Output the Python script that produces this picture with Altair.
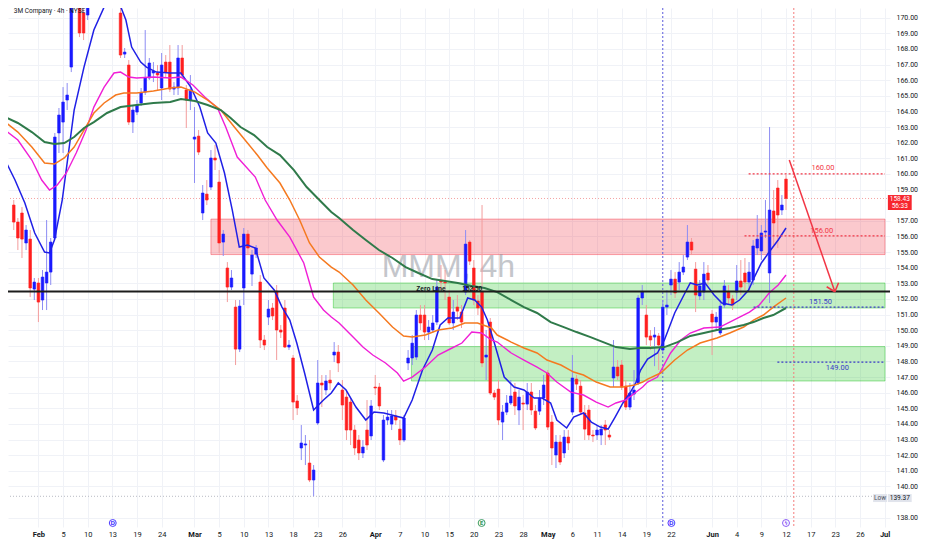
import altair as alt
import pandas as pd

# ---------------- data (4h candles, index 0 = first Feb bar) ----------------
FIRST_IDX = -6
opens = [158.01,156.92,157.50,155.58,155.83,152.63,
153.02,151.93,153.02,153.72,155.90,162.62,163.32,164.73,166.84,171.50,
172.50,170.30,170.17,171.60,172.80,173.50,173.00,173.80,173.20,172.20,
170.30,167.67,166.97,163.32,163.96,164.54,165.24,166.14,166.46,166.46,
165.50,167.16,167.16,165.43,165.50,167.42,165.37,164.73,162.23,162.42,
157.50,158.71,159.16,161.02,159.48,155.64,153.98,152.76,151.48,148.79,
152.70,156.15,153.59,154.87,153.08,149.37,150.84,151.42,152.50,150.01,
151.42,148.92,148.22,145.47,142.46,142.65,141.50,140.41,144.06,146.62,
146.17,146.81,148.41,148.60,146.17,145.72,145.40,143.61,142.97,142.14,
143.61,143.23,146.36,146.36,141.69,144.25,143.99,144.51,143.67,142.97,
147.90,148.22,148.28,150.97,150.97,149.88,150.01,150.52,153.15,153.08,
152.12,150.46,151.48,151.16,152.44,155.64,153.98,151.87,152.44,148.28,
150.52,145.98,146.23,144.12,144.76,145.34,146.04,144.89,145.34,145.27,
146.04,144.82,144.82,145.66,147.26,144.12,142.01,142.84,142.14,143.16,
144.76,146.87,146.42,144.70,144.89,143.29,143.29,143.29,143.93,143.29,
146.94,147.64,147.77,146.42,145.08,145.91,146.62,152.06,150.97,149.63,
149.56,149.63,148.73,151.48,152.89,153.27,153.08,153.72,154.68,155.64,
153.91,152.19,152.44,153.66,151.03,150.52,149.82,151.61,152.44,152.00,
152.44,153.15,153.66,153.08,153.21,155.26,155.07,156.28,153.66,157.63,
159.10,157.69,159.67]
highs = [158.33,157.18,157.88,156.73,156.41,153.34,
153.34,153.85,157.05,155.90,162.62,164.22,165.56,165.82,172.40,173.40,
172.80,170.60,172.00,173.20,174.00,174.50,174.20,174.60,173.90,172.60,
171.13,168.06,167.29,164.41,164.73,165.50,169.21,167.42,167.16,166.97,
167.74,167.61,168.25,165.88,168.25,168.25,165.69,166.33,164.28,162.81,
159.29,159.61,161.53,161.85,160.25,156.41,154.36,153.85,151.93,151.93,
156.54,156.41,155.13,155.45,153.53,149.69,151.93,151.74,152.89,150.33,
151.93,149.37,148.41,145.85,143.93,143.29,142.97,141.37,148.09,147.13,
147.13,147.45,149.24,149.05,146.81,146.17,145.66,143.93,143.29,142.97,
145.53,145.53,147.13,146.62,144.57,144.89,144.89,144.89,144.25,144.57,
148.73,149.69,151.29,151.61,151.61,150.65,150.97,153.21,154.17,153.85,
152.57,151.93,152.25,151.61,156.41,155.77,154.49,152.25,158.01,150.01,
150.78,146.17,146.81,145.21,145.85,146.81,146.62,146.17,145.85,146.62,
146.62,145.21,146.17,147.13,147.45,144.57,143.29,143.29,143.61,143.61,
148.41,147.13,146.81,145.21,145.21,143.61,143.93,143.93,144.25,143.61,
149.37,148.09,148.09,146.81,146.62,147.45,152.25,152.89,151.61,150.01,
150.20,149.82,151.93,152.57,153.85,153.72,154.36,154.81,156.73,155.90,
154.36,153.21,154.36,154.17,151.29,151.16,151.93,153.21,152.89,152.25,
154.17,154.49,154.62,154.36,155.77,157.37,156.73,158.33,163.00,158.97,
159.61,158.65,159.93]
lows = [156.41,155.13,154.62,155.13,152.12,151.93,
150.52,151.29,151.29,152.89,155.77,161.34,161.34,164.09,166.52,171.20,
168.76,168.57,169.85,171.00,172.20,172.60,172.40,172.90,171.80,170.70,
167.42,167.42,163.13,162.62,163.77,164.35,165.05,166.01,165.88,165.37,
164.73,166.14,165.24,165.05,165.05,166.14,162.94,164.09,159.42,161.21,
157.05,158.01,158.97,160.25,154.94,154.75,151.80,152.57,147.77,148.60,
151.61,154.81,152.83,154.62,148.86,148.73,150.33,150.65,148.09,149.50,
148.86,148.73,144.25,144.57,141.69,141.37,140.28,139.37,143.93,145.08,
145.85,146.17,147.96,147.32,144.25,142.97,142.65,142.01,141.69,141.82,
142.33,142.97,145.85,144.89,141.56,143.93,143.61,143.93,142.65,142.84,
147.45,147.77,148.09,150.01,149.37,149.37,149.82,150.33,152.57,151.93,
150.33,150.01,150.65,150.14,152.25,154.17,151.61,150.97,147.64,146.81,
145.85,145.53,143.93,142.97,144.57,145.21,144.57,143.93,143.61,144.89,
144.57,143.61,144.57,145.21,143.61,141.37,141.18,141.37,141.82,142.33,
144.57,146.17,144.57,142.97,142.97,142.84,142.97,142.65,142.65,142.97,
146.36,146.81,146.17,144.89,144.89,145.53,146.49,151.61,149.05,148.73,
147.70,147.45,148.60,150.97,152.25,152.06,152.57,153.53,154.49,154.81,
151.16,151.93,151.93,152.89,148.41,150.01,149.69,151.42,151.61,151.29,
151.93,152.25,152.57,152.57,152.89,154.81,154.49,155.90,151.74,155.45,
155.26,157.37,157.69]
closes = [156.92,155.90,155.83,156.41,152.70,153.08,
151.80,153.40,153.72,155.64,162.36,163.77,164.60,165.05,172.09,173.00,
169.02,169.02,171.60,172.80,173.50,173.00,173.80,173.20,172.20,170.94,
167.61,167.80,163.32,164.09,164.41,165.18,166.14,167.10,166.59,166.33,
166.97,166.52,165.43,165.56,167.42,166.33,164.73,165.37,162.36,161.40,
158.78,158.33,161.02,160.89,155.58,156.15,152.76,153.34,148.79,151.54,
156.15,155.26,154.81,155.26,149.37,149.05,151.35,150.91,150.01,149.88,
148.92,149.05,145.40,145.02,142.78,142.72,140.41,141.05,146.62,146.49,
146.75,146.62,148.60,147.90,145.21,143.61,143.61,142.46,142.14,142.52,
142.65,145.15,146.30,145.15,144.25,144.44,144.51,144.25,142.97,144.38,
148.22,149.17,150.97,150.46,149.88,150.20,150.46,152.76,153.08,153.02,
150.46,151.16,151.22,150.52,155.51,154.42,151.93,151.42,147.90,148.41,
145.98,145.72,144.25,144.76,145.34,145.79,145.15,145.72,145.27,146.04,
144.89,143.74,145.66,146.49,143.80,142.46,142.84,141.56,143.16,142.78,
146.94,146.55,144.76,143.67,143.29,143.23,143.61,143.67,143.61,143.16,
147.64,147.07,146.36,145.08,145.98,146.17,152.06,152.44,149.56,149.37,
149.69,149.05,151.48,151.61,153.27,152.38,153.72,154.04,155.64,155.13,
152.25,152.83,153.59,153.21,150.52,150.84,151.54,152.83,152.06,151.61,
153.15,152.76,153.08,153.72,155.39,155.83,156.22,156.35,157.69,156.86,
157.37,158.01,158.43]

# moving averages (bar index, price)
ma_blue_x = [-8.1,-5.7,-3.3,-0.9,1.5,2.7,3.9,5.8,8.7,11.1,13.5,16.0,17.6,18.4,19.6,21.3,22.7,24.9,26.3,28.7,32.1,34.7,37.1,39.3,41.2,43.2,45.3,47.2,48.9,50.9,52.8,54.9,57.4,59.3,61.2,62.9,64.8,67.0,69.4,71.3,73.0,74.9,77.3,79.7,81.7,84.1,88.9,91.0,93.5,95.9,97.8,99.7,102.6,104.5,106.2,107.9,109.3,111.0,113.4,115.8,118.2,120.7,122.6,124.7,126.2,128.6,130.3,132.7,134.6,136.8,138.7,140.4,142.3,144.0,145.4,146.6,148.3,150.7,152.4,154.9,157.4,158.7,160.4,162.3,164.5,166.4,168.8,170.7,172.9,174.3,176.0,177.9,180.1,182.0]
ma_blue_y = [160.89,159.61,158.14,156.22,155.00,154.94,155.77,158.33,164.09,166.84,169.21,170.68,171.13,171.60,171.00,169.85,168.12,167.16,166.84,166.52,166.46,166.46,165.56,164.28,162.62,161.98,160.06,157.69,155.32,155.45,155.26,153.34,152.57,151.48,150.65,149.18,147.26,144.89,145.53,145.98,146.62,146.17,145.08,144.25,144.76,144.70,144.38,145.53,147.45,148.73,150.33,150.78,150.78,152.06,151.93,151.48,150.65,149.18,147.00,146.36,146.17,145.66,145.66,145.34,144.25,143.74,144.44,144.70,144.12,143.80,143.67,144.44,145.34,145.98,146.62,147.45,148.15,148.54,149.37,151.10,152.38,153.02,152.89,153.02,152.25,151.74,151.61,151.93,152.57,153.40,154.30,155.00,155.77,156.54]
ma_mag_x = [-8.1,-5.0,-1.6,0.8,2.7,4.6,6.8,9.2,11.6,13.5,16.0,18.4,20.0,22.0,23.9,28.0,32.1,34.7,37.6,40.5,43.6,45.6,48.4,52.8,55.2,58.1,61.2,64.6,67.0,69.4,71.3,73.2,76.6,79.0,81.4,84.5,87.4,88.9,91.0,94.2,97.3,100.7,103.1,105.5,107.9,110.3,111.7,115.1,118.2,121.4,123.8,126.2,129.6,132.7,135.8,138.7,140.6,143.0,145.2,147.1,148.3,150.7,153.9,156.4,158.7,162.0,165.9,168.3,170.7,173.1,175.5,177.9,180.1,182.0]
ma_mag_y = [162.81,162.17,160.89,159.61,158.97,159.29,160.06,161.34,162.81,164.28,165.56,166.46,166.52,166.20,166.14,166.20,166.14,166.20,165.69,164.92,164.22,163.00,161.08,159.80,158.33,157.05,155.96,154.30,152.12,151.29,150.84,150.46,149.56,148.92,148.41,147.90,147.26,146.74,147.00,147.64,148.41,148.86,149.18,149.88,149.82,149.37,149.24,148.54,148.09,147.64,147.26,146.68,146.04,145.85,145.40,145.08,145.34,145.53,145.98,146.36,146.68,147.00,148.54,149.37,149.82,150.14,150.20,150.52,150.84,151.16,151.61,152.38,152.89,153.53]
ma_org_x = [-8.1,-5.0,-1.6,1.5,3.9,6.3,8.7,11.1,13.5,16.0,18.8,20.8,23.9,28.0,32.1,34.7,38.1,41.2,44.4,47.7,50.9,53.3,55.7,58.8,61.2,63.6,66.0,68.4,71.3,73.2,76.6,79.7,82.9,86.2,88.9,91.0,94.2,97.3,100.7,103.8,106.9,110.3,111.7,115.1,118.2,121.4,123.8,127.2,130.3,132.7,135.8,139.2,142.3,145.2,147.1,148.3,151.5,154.9,158.0,161.1,165.2,168.3,171.7,174.1,176.5,178.9,182.0]
ma_org_y = [163.32,162.68,161.72,160.70,160.63,161.02,161.72,162.81,163.90,164.54,165.05,165.18,165.18,165.31,165.50,165.56,165.24,164.73,164.09,163.00,161.98,161.21,160.38,159.42,158.33,157.05,155.58,154.68,154.04,153.72,152.89,151.93,151.10,150.20,149.63,149.56,149.69,150.01,150.14,150.46,150.46,150.14,149.69,149.24,148.86,148.54,148.09,147.77,147.32,147.13,146.68,146.36,146.36,146.49,146.68,146.87,147.26,148.09,148.73,149.18,149.50,149.82,150.20,150.65,150.97,151.48,152.06]
ma_grn_x = [-8.1,-5.0,-1.6,1.5,3.9,6.3,8.7,11.1,13.5,16.7,20.0,23.9,28.0,32.1,34.7,38.1,41.2,44.4,46.8,49.2,52.5,55.7,58.8,62.2,65.3,68.4,71.3,73.2,76.6,79.7,82.9,86.2,89.4,92.5,95.9,99.0,102.1,105.5,108.6,111.7,115.1,118.2,121.4,124.7,127.9,131.0,134.4,137.5,140.6,144.0,146.4,149.0,152.4,155.6,158.7,162.0,165.2,168.3,171.7,174.1,176.5,178.9,182.0]
ma_grn_y = [163.64,163.26,162.68,162.04,161.91,161.98,162.36,162.94,163.32,163.90,164.28,164.41,164.54,164.60,164.79,164.67,164.41,164.09,163.58,163.00,162.49,161.72,161.21,160.25,159.16,158.33,157.56,157.18,156.41,155.77,155.13,154.62,154.04,153.66,153.27,153.15,153.02,152.83,152.70,152.44,151.93,151.48,151.10,150.52,150.20,149.88,149.56,149.24,148.92,148.79,148.86,148.86,148.92,149.24,149.63,149.82,150.01,150.14,150.33,150.52,150.78,150.97,151.42]

# time axis labels (bar index where each label sits)
tick_idx = [0,6,12,18,24,30,38,44,50,56,62,68,74,82,88,94,100,106,112,118,124,130,136,142,148,154,164,170,176,182,188,194,200,206]
tick_lbl = ["Feb","5","10","13","19","24","Mar","5","10","13","18","23","26","Apr","7","10","15","20","23","28","May","6","11","14","19","22","Jun","4","9","12","17","23","26","Jul"]
month_idx = [0,38,82,124,164,206]
price_ticks = [p for p in range(138, 171) if p not in (139, 158)]

# drawings
zone_start = [42.0, 71.8, 90.8]
zone_lo = [154.84, 151.42, 146.75]
zone_hi = [157.11, 153.02, 148.95]
zone_col = ["#f23645", "#23c323", "#23c323"]
zero_line = 152.47
last_price = 158.43
low_price = 139.37
vline_idx = [152.0, 183.9]
vline_col = ["#5b5bdc", "#f47c7c"]
target_start = [172.9, 171.9, 174.1, 179.9]
target_price = [160.00, 156.03, 151.48, 147.96]
target_col = ["#f23645", "#f23645", "#3a3ac8", "#3a3ac8"]
target_text = ["160.00", "156.00", "151.50", "149.00"]
target_text_x = [191.0, 190.7, 190.4, 194.5]
target_text_y = [160.36, 156.35, 151.82, 147.56]
arrow_x0 = [182.8, 193.9, 193.9]
arrow_y0 = [160.89, 152.46, 152.46]
arrow_x1 = [193.9, 191.9, 194.8]
arrow_y1 = [152.46, 152.78, 153.04]
event_idx = [18.1, 107.9, 154.1, 182.0]
event_txt = ["D", "E", "D", "ϟ"]
event_col = ["#4d3dff", "#3c9c62", "#4d3dff", "#8b5cf6"]
event_price = 137.66

# visible window (bar index / price)
XMIN, XMAX = -6.185, 206.1
YMIN, YMAX = 137.404, 170.62

UP, DN = "#1a1aff", "#ff1f1f"
UP_W, DN_W = "#8d8df3", "#f39c9c"

n = len(closes)
candles = pd.DataFrame({"x": list(range(FIRST_IDX, FIRST_IDX + n)),
                        "o": opens, "h": highs, "l": lows, "c": closes})
is_up = candles["c"] >= candles["o"]
candles["body"] = [UP if u else DN for u in is_up]
candles["wick"] = [UP_W if u else DN_W for u in is_up]

ma_rows = []
for name, xs, ys, col, w in [("blue", ma_blue_x, ma_blue_y, "#2020e6", 1.5),
                             ("mag", ma_mag_x, ma_mag_y, "#f01fd6", 1.4),
                             ("org", ma_org_x, ma_org_y, "#f5791f", 1.5),
                             ("grn", ma_grn_x, ma_grn_y, "#2f7a4a", 2.0)]:
    for a, b in zip(xs, ys):
        ma_rows.append({"s": name, "x": a, "y": b, "col": col, "w": w})
ma_df = pd.DataFrame(ma_rows)

XS = alt.Scale(domain=[XMIN, XMAX], nice=False, zero=False)
YS = alt.Scale(domain=[YMIN, YMAX], nice=False, zero=False)

lbl_expr = ("[" + ",".join("'%s'" % s for s in tick_lbl) + "][indexof(["
            + ",".join(str(v) for v in tick_idx) + "], datum.value)]")
month_test = "indexof([" + ",".join(str(v) for v in month_idx) + "], datum.value) >= 0"

XAX = alt.Axis(values=tick_idx, labelExpr=lbl_expr, grid=True, gridColor="#f0f2f7",
               ticks=False, domain=False, labelFont="Roboto", labelFontSize=7.5,
               labelColor="#131722", labelPadding=3, labelFlush=False, labelOverlap=False,
               labelFontWeight={"condition": {"test": month_test, "value": "bold"}, "value": "normal"})
YAX = alt.Axis(orient="right", values=price_ticks, format=".2f", grid=True,
               gridColor="#f0f2f7", ticks=False, domain=False, labelFont="Roboto",
               labelFontSize=7, labelColor="#131722", labelPadding=6, labelFlush=False,
               labelOverlap=False, labelAlign="left", labelBaseline="middle")


def X(f):
    return alt.X(f + ":Q", scale=XS, axis=XAX, title=None)


def Y(f):
    return alt.Y(f + ":Q", scale=YS, axis=YAX, title=None)


zones_df = pd.DataFrame({"x0": zone_start, "x1": [XMAX] * 3, "y0": zone_lo, "y1": zone_hi, "col": zone_col})
zones = alt.Chart(zones_df).mark_rect(clip=True, fillOpacity=0.27, strokeOpacity=0.45, strokeWidth=1).encode(
    x=X("x0"), x2="x1", y=Y("y0"), y2="y1",
    fill=alt.Fill("col:N", scale=None), stroke=alt.Stroke("col:N", scale=None))

watermark = alt.Chart(pd.DataFrame({"x": [99.8], "y": [153.4], "t": ["MMM, 4h"]})).mark_text(
    font="Liberation Sans", fontSize=32, color="#9598a1", opacity=0.55, align="center",
    baseline="alphabetic", clip=True).encode(x=X("x"), y=Y("y"), text="t:N")

faint_df = pd.DataFrame({"y": [last_price, low_price], "col": ["#f5a3a3", "#b8bbc4"]})
faint = alt.Chart(faint_df).mark_rule(strokeDash=[1, 2], strokeWidth=1, clip=True).encode(
    y=Y("y"), color=alt.Color("col:N", scale=None))

vl_df = pd.DataFrame({"x": vline_idx, "col": vline_col})
vlines = alt.Chart(vl_df).mark_rule(strokeDash=[2, 2], strokeWidth=1, clip=True).encode(
    x=X("x"), color=alt.Color("col:N", scale=None))

wicks = alt.Chart(candles).mark_rule(strokeWidth=1, clip=True).encode(
    x=X("x"), y=Y("l"), y2="h", color=alt.Color("wick:N", scale=None))
bodies = alt.Chart(candles).mark_bar(size=2.6, clip=True, strokeWidth=0.6).encode(
    x=X("x"), y=Y("o"), y2="c",
    fill=alt.Fill("body:N", scale=None), stroke=alt.Stroke("body:N", scale=None))

mas = alt.Chart(ma_df).mark_line(clip=True).encode(
    x=X("x"), y=Y("y"), color=alt.Color("col:N", scale=None),
    strokeWidth=alt.StrokeWidth("w:Q", scale=None), detail="s:N")

zero = alt.Chart(pd.DataFrame({"y": [zero_line]})).mark_rule(color="#1c1c1c", strokeWidth=2, clip=True).encode(y=Y("y"))

tg_df = pd.DataFrame({"x0": target_start, "x1": [XMAX] * 4, "y": target_price, "col": target_col})
targets = alt.Chart(tg_df).mark_rule(strokeDash=[2, 2], strokeWidth=1.2, clip=True).encode(
    x=X("x0"), x2="x1", y=Y("y"), color=alt.Color("col:N", scale=None))
tt_df = pd.DataFrame({"x": target_text_x, "y": target_text_y, "t": target_text, "col": target_col})
target_lbl = alt.Chart(tt_df).mark_text(font="Roboto", fontSize=7.5, align="center", baseline="middle").encode(
    x=X("x"), y=Y("y"), text="t:N", color=alt.Color("col:N", scale=None))

ar_df = pd.DataFrame({"x0": arrow_x0, "y0": arrow_y0, "x1": arrow_x1, "y1": arrow_y1})
arrow = alt.Chart(ar_df).mark_rule(color="#f23645", strokeWidth=1.5, clip=True).encode(
    x=X("x0"), x2="x1", y=Y("y0"), y2="y1")

zl_df = pd.DataFrame({"x": [92.0, 103.2], "y": [152.62, 152.62], "t": ["Zero Line", "152.50"]})
zero_lbl = alt.Chart(zl_df).mark_text(font="Liberation Sans", fontSize=6.5, fontWeight="bold",
                                      color="#131722", align="left", baseline="middle").encode(
    x=X("x"), y=Y("y"), text="t:N")

ev_df = pd.DataFrame({"x": event_idx, "y": [event_price] * 4, "t": event_txt, "col": event_col})
ev_pts = alt.Chart(ev_df).mark_point(shape="circle", size=48, fill="white", fillOpacity=1, strokeWidth=1).encode(
    x=X("x"), y=Y("y"), stroke=alt.Stroke("col:N", scale=None))
ev_txt = alt.Chart(ev_df).mark_text(font="DejaVu Sans", fontSize=5.5, fontWeight="bold",
                                    align="center", baseline="middle").encode(
    x=X("x"), y=Y("y"), text="t:N", color=alt.Color("col:N", scale=None))

title = alt.Chart(pd.DataFrame({"x": [-6.0], "y": [YMAX - 0.02], "t": ["3M Company · 4h · NYSE"]})).mark_text(
    font="Roboto", fontSize=6.5, color="#131722", align="left", baseline="top").encode(
    x=X("x"), y=Y("y"), text="t:N")

box_df = pd.DataFrame({"x0": [206.8, 203.2, 206.8], "x1": [212.6, 206.6, 212.6],
                       "y0": [157.69, 139.0, 139.0], "y1": [158.65, 139.51, 139.51],
                       "col": ["#f7262e", "#e1e4ec", "#e1e4ec"]})
boxes = alt.Chart(box_df).mark_rect().encode(
    x=X("x0"), x2="x1", y=Y("y0"), y2="y1", fill=alt.Fill("col:N", scale=None))
bt_df = pd.DataFrame({"x": [209.7, 209.7, 204.9, 209.7], "y": [158.40, 157.93, 139.25, 139.25],
                      "t": ["158.43", "56:33", "Low", "139.37"],
                      "col": ["#ffffff", "#ffffff", "#50535e", "#131722"]})
box_txt = alt.Chart(bt_df).mark_text(font="Roboto", fontSize=6.5, align="center", baseline="middle").encode(
    x=X("x"), y=Y("y"), text="t:N", color=alt.Color("col:N", scale=None))

chart = alt.layer(
    zones, watermark, faint, vlines, wicks, bodies, mas, zero, targets, target_lbl, arrow,
    zero_lbl, ev_pts, ev_txt, title, boxes, box_txt
).properties(
    width=882, height=519,
    padding={"left": 0, "top": 0, "right": 34, "bottom": 15},
    autosize=alt.AutoSizeParams(type="none"),
    background="white",
).configure_view(strokeWidth=0)

chart.save("out.html", embed_options={"renderer": "svg", "actions": False})
